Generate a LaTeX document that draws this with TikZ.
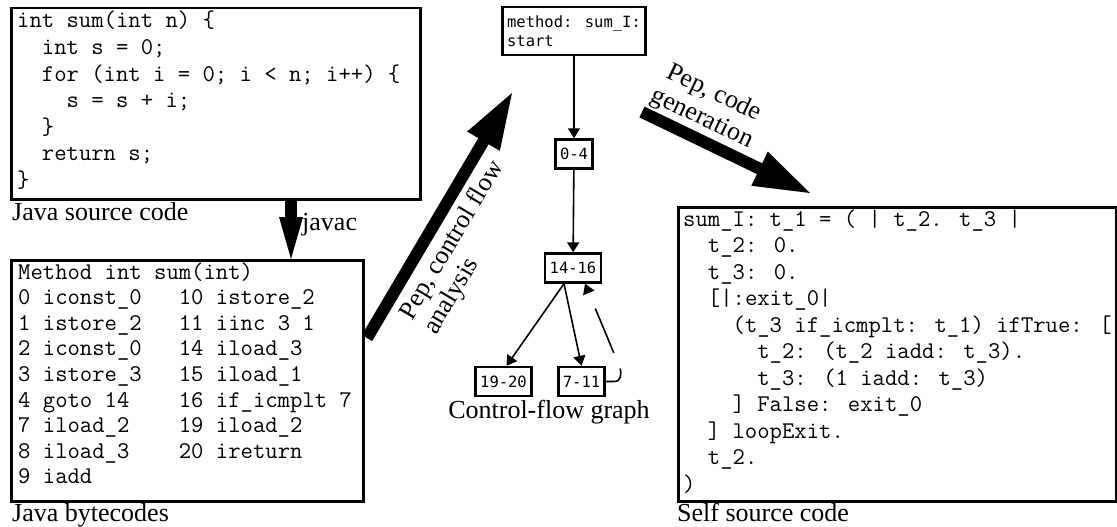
\documentclass[tikz,border=0pt]{standalone}
\usepackage{fontspec}
\setmainfont{Liberation Serif}
\newfontfamily\cfgfont{DejaVu Sans Mono}
\usetikzlibrary{arrows.meta,calc}
\newcommand\codeblk[2]{\vtop{\baselineskip=#1\lineskiplimit=-30pt\relax #2}}
\begin{document}
\begin{tikzpicture}[x=1pt,y=-1pt,
  box/.style={draw,line width=2.5pt,inner sep=0pt,anchor=north west},
  code/.style={font=\ttfamily\fontsize{24}{26.6}\selectfont,inner sep=0pt,anchor=base west},
  lbl/.style={font=\fontsize{26}{28}\selectfont,inner sep=0pt},
  cfg/.style={draw,line width=2.4pt,font=\cfgfont\fontsize{15.5}{19}\selectfont,inner xsep=4.5pt,inner ysep=0pt,minimum height=29pt},
  flow/.style={line width=1.6pt,-{Triangle[length=10pt,width=12pt]}},
  fat/.style={line width=12pt},
]
\useasboundingbox (0,0) rectangle (1117,527);

% Java source code
\node[box,minimum width=409pt,minimum height=191pt] (srcbox) at (10,7) {};
\node[code] (src) at (17,28) {\codeblk{26.6pt}{%
\hbox{int sum(int n) \{}%
\hbox{~~int s = 0;}%
\hbox{~~for (int i = 0; i < n; i++) \{}%
\hbox{~~~~s = s + i;}%
\hbox{~~\}}%
\hbox{~~return s;}%
\hbox{\}}}};
\node[lbl,anchor=base west] (srclbl) at (12,220) {Java source code};

% Java bytecodes
\node[box,minimum width=352pt,minimum height=241pt] (bcbox) at (10,259) {};
\node[code] (bc) at (18,279) {\codeblk{25.6pt}{%
\hbox{Method int sum(int)}%
\hbox{0 iconst\_0~~~10 istore\_2}%
\hbox{1 istore\_2~~~11 iinc 3 1}%
\hbox{2 iconst\_0~~~14 iload\_3}%
\hbox{3 istore\_3~~~15 iload\_1}%
\hbox{4 goto 14~~~~16 if\_icmplt 7}%
\hbox{7 iload\_2~~~~19 iload\_2}%
\hbox{8 iload\_3~~~~20 ireturn}%
\hbox{9 iadd}}};
\node[lbl,anchor=base west] (bclbl) at (12,521) {Java bytecodes};

% javac arrow
\coordinate (jx) at (291,0);
\coordinate (j1) at (srcbox.south -| jx);
\coordinate (j2) at (bcbox.north -| jx);
\path ($(j2)!42pt!(j1)$) coordinate (jb);
\draw[fat] (j1) -- ($(j2)!38pt!(j1)$);
\fill (j2) -- ($(jb)!12pt!90:(j2)$) -- ($(jb)!12pt!-90:(j2)$) -- cycle;
\node[lbl,anchor=base west] (javac) at (302,230) {javac};

% Control-flow graph
\node[cfg,minimum width=140pt,minimum height=48pt,align=left] (mstart) at (574,31) {method: sum\_I:\\start};
\node[cfg] (b04) at (574,154) {0-4};
\node[cfg] (b1416) at (573,268) {14-16};
\node[cfg] (b1920) at (503.5,381.5) {19-20};
\node[cfg] (b711) at (581.5,381.5) {7-11};
\node[lbl,anchor=base] (cfglbl) at (549,418) {Control-flow graph};
\draw[flow] (mstart) -- (b04);
\draw[flow] (b04) -- (b1416);
\draw[flow] ($(b1416.south)+(-9,0)$) -- ($(b1920.north)+(3,0)$);
\draw[flow] ($(b1416.south)+(-9,0)$) -- (b711.north);
\draw[flow,dash pattern=on 25pt off 17pt on 48pt off 60pt]
  (b711.east) -- ($(b711.east)+(8,0)$)
  .. controls ($(b711.east)+(15,0)$) and ($(b711.east)+(16,-6)$) .. ($(b711.east)+(14,-14)$)
  -- ($(b1416.south)+(12,0)$);

% Pep, control flow analysis
\coordinate (p1t) at (367,338);
\coordinate (p1h) at (512,93);
\path ($(p1h)!56pt!(p1t)$) coordinate (p1b);
\draw[fat] (p1t) -- ($(p1h)!50pt!(p1t)$);
\fill (p1h) -- ($(p1b)!19pt!90:(p1h)$) -- ($(p1b)!19pt!-90:(p1h)$) -- cycle;
\node[lbl,rotate=59.3,anchor=north west,align=left] (p1lbl) at (396,312) {Pep, control flow\\analysis};

% Pep, code generation
\coordinate (p2t) at (642,112);
\coordinate (p2h) at (810,193);
\path ($(p2h)!56pt!(p2t)$) coordinate (p2b);
\draw[fat] (p2t) -- ($(p2h)!50pt!(p2t)$);
\fill (p2h) -- ($(p2b)!19pt!90:(p2h)$) -- ($(p2b)!19pt!-90:(p2h)$) -- cycle;
\node[lbl,rotate=-25.5,align=center] (p2lbl) at (708,106) {Pep, code\\generation};

% Self source code
\node[box,minimum width=438pt,minimum height=294pt] (selfbox) at (677,206) {};
\node[code] (self) at (683,226) {\codeblk{26.5pt}{%
\hbox{sum\_I: t\_1 = ( | t\_2. t\_3 |}%
\hbox{~~t\_2: 0.}%
\hbox{~~t\_3: 0.}%
\hbox{~~[|:exit\_0|}%
\hbox{~~~~(t\_3 if\_icmplt: t\_1) ifTrue: [}%
\hbox{~~~~~~t\_2: (t\_2 iadd: t\_3).}%
\hbox{~~~~~~t\_3: (1 iadd: t\_3)}%
\hbox{~~~~] False: exit\_0}%
\hbox{~~] loopExit.}%
\hbox{~~t\_2.}%
\hbox{)}}};
\node[lbl,anchor=base west] (selflbl) at (677,521) {Self source code};
\end{tikzpicture}
\end{document}
